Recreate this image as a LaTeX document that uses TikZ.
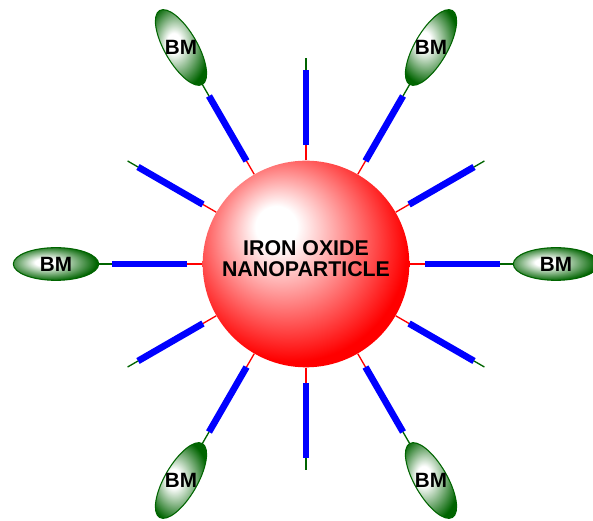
\documentclass[tikz,border=0pt]{standalone}
\usepackage{fontspec}
\setmainfont{Liberation Sans}
\usepackage{tikz}
\usetikzlibrary{shapes.geometric}
\usetikzlibrary{calc}

\definecolor{bmgreen}{RGB}{0,100,0}
\definecolor{npred}{RGB}{255,0,0}
\pgfdeclareradialshading{npshade}{\pgfpoint{-8bp}{10bp}}{color(0bp)=(white); color(5bp)=(white); color(28bp)=(npred); color(50bp)=(npred)}
\pgfdeclareradialshading{bmshade}{\pgfpoint{-7bp}{3bp}}{color(0bp)=(white); color(6bp)=(white); color(27bp)=(bmgreen); color(50bp)=(bmgreen)}

\begin{document}
\begin{tikzpicture}[x=0.75pt,y=0.75pt,
  npball/.style={circle,inner sep=0pt,minimum size=155pt,shade,shading=npshade},
  bmball/.style={ellipse,inner sep=0pt,minimum width=64pt,minimum height=24.5pt,draw=bmgreen,line width=0.8pt,shade,shading=bmshade},
  redline/.style={npred,line width=1pt},
  blueline/.style={blue,line width=5pt},
  greenline/.style={bmgreen,line width=1pt},
  bmtext/.style={inner sep=0pt,font=\bfseries\fontsize{15.5}{16}\selectfont}]
\useasboundingbox (0,0) rectangle (593,521);
\node[npball] (np) at (306,257) {};
\node[inner sep=0pt,align=center,font=\bfseries\fontsize{16}{16}\selectfont] (nptext) at ([yshift=4pt]np.center) {IRON OXIDE\\NANOPARTICLE};
% spokes without BM
\foreach \a in {30,90,...,330}{
  \coordinate (r\a) at ($(np)+(\a:119)$);
  \coordinate (b\a) at ($(np)+(\a:194)$);
  \coordinate (g\a) at ($(np)+(\a:206)$);
  \draw[redline] (np.\a) -- (r\a);
  \draw[blueline] (r\a) -- (b\a);
  \draw[greenline] (b\a) -- (g\a);
}
% spokes with BM
\foreach \a in {0,60,...,300}{
  \coordinate (r\a) at ($(np)+(\a:119)$);
  \coordinate (b\a) at ($(np)+(\a:194)$);
  \node[bmball,rotate=\a] (bm\a) at ($(np)+(\a:250)$) {};
  \node[bmtext] (t\a) at (bm\a) {BM};
  \draw[redline] (np.\a) -- (r\a);
  \draw[blueline] (r\a) -- (b\a);
  \draw[greenline] (b\a) -- (bm\a);
}
\end{tikzpicture}
\end{document}
